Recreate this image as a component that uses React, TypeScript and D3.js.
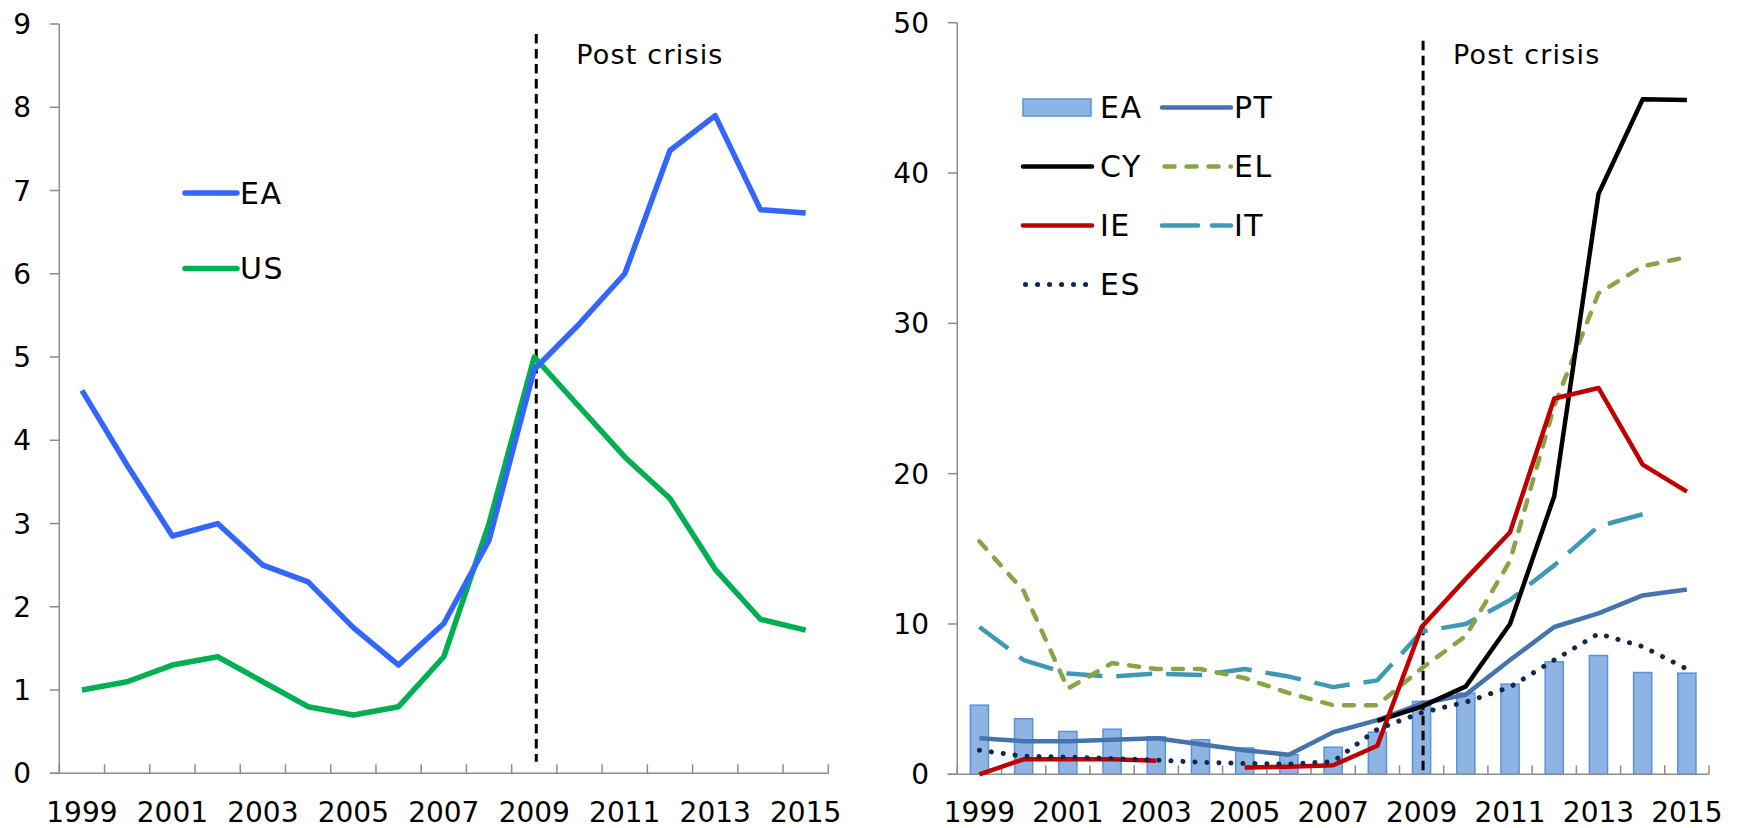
import React from 'react';
import * as d3 from 'd3';

const years = d3.range(1999, 2016).map(String);
const yearLabels = ['1999', '2001', '2003', '2005', '2007', '2009', '2011', '2013', '2015'];

// left panel
const eaLeft = [4.6, 3.7, 2.85, 3.0, 2.5, 2.3, 1.75, 1.3, 1.8, 2.8, 4.85, 5.4, 6.0, 7.48, 7.9, 6.77, 6.73];
const usLeft = [1.0, 1.1, 1.3, 1.4, 1.1, 0.8, 0.7, 0.8, 1.4, 3.0, 5.0, 4.4, 3.8, 3.3, 2.45, 1.85, 1.72];
const leftTicks = d3.range(0, 10);

// right panel
const eaBars = eaLeft;
const pt = [2.4, 2.2, 2.2, 2.3, 2.4, 2.0, 1.6, 1.3, 2.8, 3.6, 4.7, 5.3, 7.6, 9.8, 10.7, 11.9, 12.3];
const cy = [null, null, null, null, null, null, null, null, null, 3.55, 4.5, 5.85, 10.0, 18.5, 38.6, 44.9, 44.85];
const ie = [0, 1.0, 1.0, 1.0, 0.9, null, 0.45, 0.5, 0.6, 1.9, 9.8, 13.0, 16.1, 25.0, 25.7, 20.6, 18.8];
const el = [15.5, 12.2, 5.7, 7.4, 7.0, 7.0, 6.4, 5.4, 4.6, 4.6, 7.05, 9.2, 14.2, 24.5, 32.0, 33.8, 34.4];
const it = [9.8, 7.6, 6.7, 6.5, 6.7, 6.6, 7.0, 6.5, 5.8, 6.25, 9.5, 10.0, 11.6, 13.9, 16.5, 17.3, null];
const es = [1.6, 1.2, 1.15, 1.05, 0.95, 0.8, 0.72, 0.68, 0.85, 3.0, 4.1, 4.8, 5.8, 7.6, 9.35, 8.5, 7.0];
const rightTicks = [0, 10, 20, 30, 40, 50];

const FONT = 'DejaVu Sans, Verdana, sans-serif';
const AXIS = '#8c8c8c';

type S = { key: string; values: (number | null)[]; color: string; dash?: string; cap?: string; width: number };

const rightSeries: S[] = [
  { key: 'IT', values: it, color: '#3E99B4', dash: '36,14', width: 4.5 },
  { key: 'EL', values: el, color: '#87A546', dash: '10,12', cap: 'round', width: 4.5 },
  { key: 'PT', values: pt, color: '#4673AE', width: 4.5 },
  { key: 'CY', values: cy, color: '#000000', width: 4.5 },
  { key: 'IE', values: ie, color: '#C00000', width: 4.5 },
  { key: 'ES', values: es, color: '#14284B', dash: '0.1,11.9', cap: 'round', width: 5 },
];

const legendRows = [
  [{ key: 'EA', bar: true }, { key: 'PT' }],
  [{ key: 'CY' }, { key: 'EL' }],
  [{ key: 'IE' }, { key: 'IT' }],
  [{ key: 'ES' }],
];

function XAxis({ x, y0, left }: { x: d3.ScaleBand<string>; y0: number; left: number }) {
  const r1 = x.range()[1];
  const bounds = years.map((d) => x(d)!).concat([r1]);
  return (
    <g>
      <line x1={left} x2={r1} y1={y0} y2={y0} stroke={AXIS} strokeWidth={1.5} />
      {bounds.map((b, i) => (
        <line key={i} x1={b} x2={b} y1={y0} y2={y0 - 9} stroke={AXIS} strokeWidth={1.5} />
      ))}
      {yearLabels.map((d) => (
        <text key={d} x={x(d)! + x.bandwidth() / 2} y={821.5} textAnchor="middle" fontSize={28} fontFamily={FONT} fill="#000">
          {d}
        </text>
      ))}
    </g>
  );
}

function YAxis({ y, ticks, x0, labelX }: { y: d3.ScaleLinear<number, number>; ticks: number[]; x0: number; labelX: number }) {
  const [b, t] = y.range();
  return (
    <g>
      <line x1={x0} x2={x0} y1={b} y2={t} stroke={AXIS} strokeWidth={1.5} />
      {ticks.map((v) => (
        <g key={v}>
          <line x1={x0 - 9.5} x2={x0} y1={y(v)} y2={y(v)} stroke={AXIS} strokeWidth={1.5} />
          <text x={labelX} y={y(v)} dy="0.36em" textAnchor="end" fontSize={28} fontFamily={FONT} fill="#000">
            {v}
          </text>
        </g>
      ))}
    </g>
  );
}

export default function App() {
  // left
  const xL = d3.scaleBand<string>().domain(years).range([59.3, 828.3]);
  const yL = d3.scaleLinear().domain([0, 9]).range([773.3, 24]);
  const lineL = d3
    .line<number>()
    .x((_, i) => xL(years[i])! + xL.bandwidth() / 2)
    .y((d) => yL(d));

  // right
  const xR = d3.scaleBand<string>().domain(years).range([957.3, 1709]);
  const yR = d3.scaleLinear().domain([0, 50]).range([774.3, 22.7]);
  const lineR = d3
    .line<number | null>()
    .defined((d) => d !== null)
    .x((_, i) => xR(years[i])! + xR.bandwidth() / 2)
    .y((d) => yR(d as number));
  const barW = xR.bandwidth() * 0.41;

  const crisisL = xL('2009')! + xL.bandwidth() / 2 + 2;
  const crisisR = xR('2009')! + xR.bandwidth() / 2 + 1.5;

  const styleOf = (k: string) => rightSeries.find((s) => s.key === k)!;

  return (
    <svg width={1739} height={828} style={{ position: 'absolute', left: 0, top: 0, background: '#fff' }}>
      {/* LEFT PANEL */}
      <YAxis y={yL} ticks={leftTicks} x0={59.3} labelX={31} />
      <XAxis x={xL} y0={773.3} left={50} />
      <line x1={crisisL} x2={crisisL} y1={yL(8.88)} y2={yL(0.14)} stroke="#000" strokeWidth={3} strokeDasharray="9.5,5.5" />
      <text x={crisisL + 40} y={64} fontSize={27} letterSpacing={1.2} fontFamily={FONT} fill="#000">Post crisis</text>
      <path d={lineL(usLeft)!} fill="none" stroke="#00B050" strokeWidth={5.5} strokeLinejoin="round" />
      <path d={lineL(eaLeft)!} fill="none" stroke="#3366FF" strokeWidth={5.5} strokeLinejoin="round" />
      <g fontSize={30} letterSpacing={1.5} fontFamily={FONT}>
        <line x1={185} x2={237} y1={193} y2={193} stroke="#3366FF" strokeWidth={5.5} strokeLinecap="round" />
        <text x={240} y={193} dy="0.36em">EA</text>
        <line x1={185} x2={237} y1={268.5} y2={268.5} stroke="#00B050" strokeWidth={5.5} strokeLinecap="round" />
        <text x={240} y={268.5} dy="0.36em">US</text>
      </g>

      {/* RIGHT PANEL */}
      {eaBars.map((v, i) => (
        <rect
          key={i}
          x={xR(years[i])! + xR.bandwidth() / 2 - barW / 2}
          y={yR(v)}
          width={barW}
          height={yR(0) - yR(v)}
          fill="#8DB4E2"
          stroke="#5A93D8"
          strokeWidth={1.5}
        />
      ))}
      <YAxis y={yR} ticks={rightTicks} x0={957.3} labelX={929} />
      <XAxis x={xR} y0={774.3} left={947.7} />
      <line x1={crisisR} x2={crisisR} y1={yR(48.8)} y2={yR(0)} stroke="#000" strokeWidth={3} strokeDasharray="9.5,5.5" />
      <text x={crisisR + 30} y={64} fontSize={27} letterSpacing={1.2} fontFamily={FONT} fill="#000">Post crisis</text>
      {rightSeries.map((s) => (
        <path
          key={s.key}
          d={lineR(s.values)!}
          fill="none"
          stroke={s.color}
          strokeWidth={s.width}
          strokeDasharray={s.dash}
          strokeLinecap={(s.cap as any) || 'butt'}
          strokeLinejoin="round"
        />
      ))}
      <g fontSize={30} letterSpacing={1.5} fontFamily={FONT}>
        {legendRows.map((row, r) =>
          row.map((item, c) => {
            const cy0 = 107.5 + r * 59;
            const lx = c === 0 ? 1023 : 1162;
            const tx = c === 0 ? 1100 : 1234;
            if ((item as any).bar) {
              return (
                <g key={item.key}>
                  <rect x={lx} y={cy0 - 8.5} width={68} height={17} fill="#8DB4E2" stroke="#5A93D8" strokeWidth={1.5} />
                  <text x={tx} y={cy0} dy="0.36em">{item.key}</text>
                </g>
              );
            }
            const s = styleOf(item.key);
            return (
              <g key={item.key}>
                <line
                  x1={lx + (s.cap ? 2.5 : 0)}
                  x2={lx + 69}
                  y1={cy0}
                  y2={cy0}
                  stroke={s.color}
                  strokeWidth={s.width}
                  strokeDasharray={s.dash}
                  strokeLinecap={(s.cap as any) || 'round'}
                />
                <text x={tx} y={cy0} dy="0.36em">{item.key}</text>
              </g>
            );
          })
        )}
      </g>
    </svg>
  );
}
